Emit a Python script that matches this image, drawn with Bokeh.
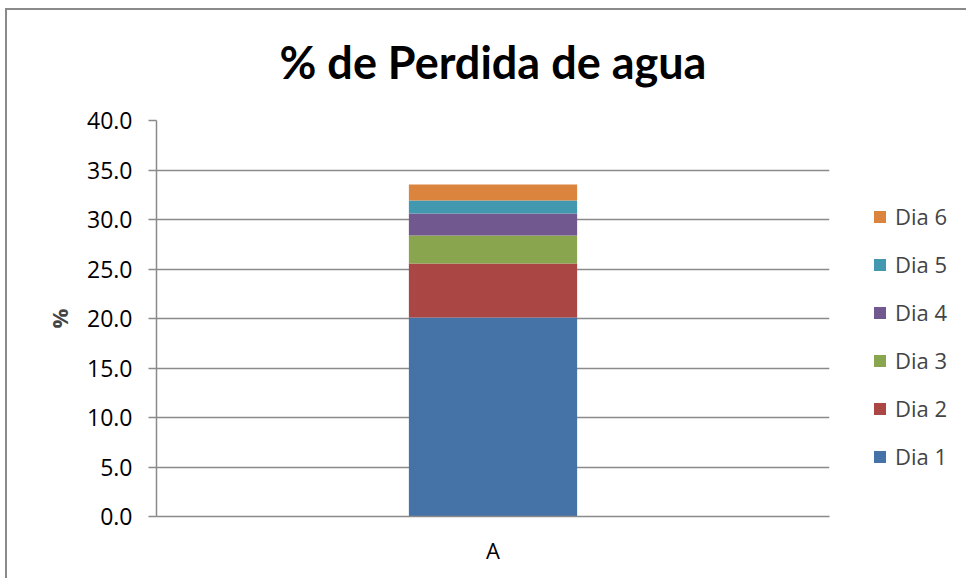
from bokeh.plotting import figure
from bokeh.models import ColumnDataSource, Legend, LegendItem, NumeralTickFormatter, SingleIntervalTicker
from bokeh.embed import file_html
from bokeh.resources import INLINE

categories = ["A"]
series = ["Dia 1", "Dia 2", "Dia 3", "Dia 4", "Dia 5", "Dia 6"]
dia1 = [20.1]
dia2 = [5.46]
dia3 = [2.82]
dia4 = [2.22]
dia5 = [1.31]
dia6 = [1.62]
colors = ["#4572A7", "#AA4643", "#89A54E", "#71588F", "#4198AF", "#DB843D"]

data = {"cat": categories}
for name, vals in zip(series, [dia1, dia2, dia3, dia4, dia5, dia6]):
    data[name] = vals
source = ColumnDataSource(data)

p = figure(x_range=categories, y_range=(0, 40), output_backend="svg", toolbar_location=None,
           frame_width=673, frame_height=396,
           min_border_left=156, min_border_right=136, min_border_top=120, min_border_bottom=62,
           title="% de Perdida de agua")
p.styles = {"background": "linear-gradient(#8a8a8a, #8a8a8a) 5px 8px / 100% 2px no-repeat, "
                          "linear-gradient(#8a8a8a, #8a8a8a) 5px 8px / 2px 100% no-repeat, white"}
p.border_fill_alpha = 0

renderers = p.vbar_stack(series, x="cat", width=0.25, source=source, color=colors, line_width=0)

p.title.text_font = "Lato"
p.title.text_font_size = "45px"
p.title.text_font_style = "bold"
p.title.align = "center"
p.title.text_color = "black"
p.title.standoff = 63

p.outline_line_color = None
p.xgrid.grid_line_color = None
p.ygrid.grid_line_color = "#8a8a8a"
p.ygrid.grid_line_width = 1.5

p.yaxis.ticker = SingleIntervalTicker(interval=5)
p.yaxis.formatter = NumeralTickFormatter(format="0.0")
p.yaxis.axis_line_color = "#8a8a8a"
p.yaxis.axis_line_width = 1.5
p.yaxis.major_tick_line_color = "#8a8a8a"
p.yaxis.major_tick_line_width = 1.5
p.yaxis.major_tick_out = 8
p.yaxis.major_tick_in = 0
p.yaxis.minor_tick_line_color = None
p.yaxis.major_label_standoff = 16
p.yaxis.major_label_text_font = "Open Sans"
p.yaxis.major_label_text_font_size = "23px"
p.yaxis.major_label_text_color = "black"
p.yaxis.axis_label = "%"
p.yaxis.axis_label_text_font = "Open Sans"
p.yaxis.axis_label_text_font_size = "22px"
p.yaxis.axis_label_text_font_style = "bold"
p.yaxis.axis_label_standoff = 10

p.xaxis.axis_line_color = "#8a8a8a"
p.xaxis.axis_line_width = 1.5
p.xaxis.major_tick_line_color = None
p.xaxis.minor_tick_line_color = None
p.xaxis.major_label_standoff = 12
p.xaxis.major_label_text_font = "Open Sans"
p.xaxis.major_label_text_font_size = "22px"
p.xaxis.major_label_text_color = "black"

items = [LegendItem(label=s, renderers=[r]) for s, r in zip(series, renderers)][::-1]
legend = Legend(items=items, location=(43, 45), orientation="vertical")
legend.glyph_width = 15
legend.glyph_height = 15
legend.label_standoff = 8
legend.label_text_font = "Open Sans"
legend.label_text_font_size = "22px"
legend.label_height = 20
legend.spacing = 18
legend.padding = 0
legend.margin = 0
legend.border_line_color = None
legend.background_fill_alpha = 0
p.add_layout(legend, "right")

open("out.html", "w").write(file_html(p, INLINE))
